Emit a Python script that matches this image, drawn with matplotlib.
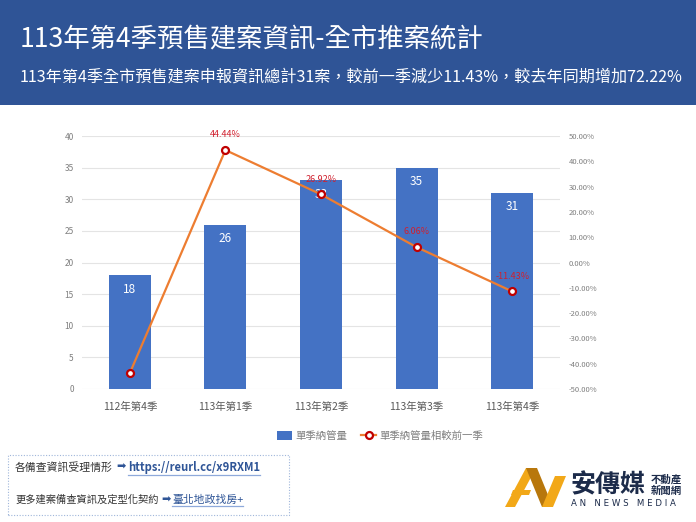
import matplotlib
matplotlib.use("Agg")
import matplotlib.pyplot as plt
from matplotlib.patches import Rectangle, Polygon
from matplotlib.lines import Line2D

plt.rcParams["font.family"] = ["Noto Sans CJK TC", "DejaVu Sans"]

# ---------- Data ----------
quarters    = ["112年第4季", "113年第1季", "113年第2季", "113年第3季", "113年第4季"]
counts      = [18, 26, 33, 35, 31]
qoq_pct     = [-43.75, 44.44, 26.92, 6.06, -11.43]
qoq_labels  = ["", "44.44%", "26.92%", "6.06%", "-11.43%"]
left_ticks  = [0, 5, 10, 15, 20, 25, 30, 35, 40]
right_ticks = [-50, -40, -30, -20, -10, 0, 10, 20, 30, 40, 50]

TITLE    = "113年第4季預售建案資訊-全市推案統計"
SUBTITLE = "113年第4季全市預售建案申報資訊總計31案，較前一季減少11.43%，較去年同期增加72.22%"
BAR_NAME  = "單季納管量"
LINE_NAME = "單季納管量相較前一季"
LINK1_TXT = "各備查資訊受理情形"
LINK1_URL = "https://reurl.cc/x9RXM1"
LINK2_TXT = "更多建案備查資訊及定型化契約"
LINK2_URL = "臺北地政找房+"

# ---------- Colours ----------
HEADER_BLUE = "#2F5496"
BAR_BLUE    = "#4472C4"
LINE_ORANGE = "#ED7D31"
MARK_RED    = "#C00000"
LABEL_RED   = "#D0202E"
GRID_GRAY   = "#E4E4E4"
TEXT_GRAY   = "#7F7F7F"
LINK_BLUE   = "#2F5597"

W, H = 696, 522
fig = plt.figure(figsize=(W / 100, H / 100), dpi=100)


def fx(px):
    return px / W


def fy(py):
    return 1 - py / H


# ---------- Header ----------
fig.patches.append(Rectangle((0, fy(105)), 1, 105 / H, transform=fig.transFigure,
                             facecolor=HEADER_BLUE, edgecolor="none", zorder=0))
fig.text(fx(20), fy(40), TITLE, color="white", fontsize=19, fontweight="medium",
         va="center", ha="left")
fig.text(fx(20), fy(77), SUBTITLE, color="white", fontsize=11.6, fontweight="medium",
         va="center", ha="left")

# ---------- Chart ----------
ax = fig.add_axes([fx(82), fy(389), 478 / W, 253 / H])
x = list(range(len(quarters)))
ax.bar(x, counts, width=0.44, color=BAR_BLUE, zorder=2)
ax.set_xlim(-0.5, len(quarters) - 0.5)
ax.set_ylim(0, 40)
ax.set_yticks(left_ticks)
ax.set_yticklabels([str(t) for t in left_ticks])
ax.set_xticks(x)
ax.set_xticklabels(quarters)
ax.tick_params(axis="y", length=0, labelsize=6, labelcolor=TEXT_GRAY, pad=6)
ax.tick_params(axis="x", length=0, labelsize=7.5, labelcolor="#595959", pad=9)
ax.grid(axis="y", color=GRID_GRAY, linewidth=0.8, zorder=0)
ax.set_axisbelow(True)
for s in ax.spines.values():
    s.set_visible(False)

for xi, c in zip(x, counts):
    ax.annotate(str(c), (xi, c), xytext=(0, -10), textcoords="offset points",
                ha="center", va="center", color="white", fontsize=8.5)

ax2 = ax.twinx()
ax2.plot(x, qoq_pct, color=LINE_ORANGE, linewidth=1.6, marker="o", markersize=5,
         markerfacecolor="white", markeredgecolor=MARK_RED, markeredgewidth=1.6, zorder=3)
ax2.set_ylim(-50, 50)
ax2.set_yticks(right_ticks)
ax2.set_yticklabels([f"{t:.2f}%" for t in right_ticks])
ax2.tick_params(axis="y", length=0, labelsize=5.5, labelcolor=TEXT_GRAY, pad=6)
for s in ax2.spines.values():
    s.set_visible(False)

for xi, v, lab in zip(x, qoq_pct, qoq_labels):
    if lab:
        ax2.annotate(lab, (xi, v), xytext=(0, 11), textcoords="offset points",
                     ha="center", va="center", color=LABEL_RED, fontsize=6.5)

# ---------- Legend ----------
handles = [
    Rectangle((0, 0), 1, 1, facecolor=BAR_BLUE, edgecolor="none"),
    Line2D([], [], color=LINE_ORANGE, linewidth=1.6, marker="o", markersize=5,
           markerfacecolor="white", markeredgecolor=MARK_RED, markeredgewidth=1.6),
]
leg = fig.legend(handles, [BAR_NAME, LINE_NAME], loc="center", ncol=2,
                 bbox_to_anchor=(fx(380), fy(436)), frameon=False, fontsize=7.5,
                 handlelength=1.4, handleheight=0.9, columnspacing=1.4, handletextpad=0.3)
for t in leg.get_texts():
    t.set_color(TEXT_GRAY)

# ---------- Bottom info box ----------
fig.patches.append(Rectangle((fx(8), fy(515)), 281 / W, 60 / H, transform=fig.transFigure,
                             facecolor="white", edgecolor="#9FB6DA", linewidth=0.8,
                             linestyle=(0, (1, 1.5)), zorder=1))
fig.text(fx(15), fy(467), LINK1_TXT, fontsize=7.8, color="#333333", va="center")
fig.text(fx(116), fy(467), "➡", fontsize=8, color=LINK_BLUE, va="center",
         family=["DejaVu Sans"])
u1 = fig.text(fx(128), fy(467), LINK1_URL, fontsize=8.1, color=LINK_BLUE, va="center",
              fontweight="bold")
fig.text(fx(15), fy(500), LINK2_TXT, fontsize=7.4, color="#333333", va="center")
fig.text(fx(161), fy(500), "➡", fontsize=8, color=LINK_BLUE, va="center",
         family=["DejaVu Sans"])
u2 = fig.text(fx(172), fy(500), LINK2_URL, fontsize=7.8, color=LINK_BLUE, va="center")

fig.canvas.draw()
inv = fig.transFigure.inverted()
for u in (u1, u2):
    bb = u.get_window_extent()
    (x0, y0), (x1, _) = inv.transform([(bb.x0, bb.y0), (bb.x1, bb.y1)])
    fig.add_artist(Line2D([x0, x1], [y0 - 0.002, y0 - 0.002], transform=fig.transFigure,
                          color="#8EA9DB", linewidth=0.9))

# ---------- Logo ----------
GOLD, DARK_GOLD = "#F2A818", "#B8770C"
shapes = [
    ([(505, 507), (515, 507), (536, 468), (526, 468)], GOLD),
    ([(526, 468), (537, 468), (553, 507), (542, 507)], DARK_GOLD),
    ([(542, 507), (553, 507), (566, 476), (555, 476)], GOLD),
    ([(511, 495), (529, 495), (531, 490), (513, 490)], GOLD),
]
for pts, col in shapes:
    fig.patches.append(Polygon([(fx(px), fy(py)) for px, py in pts], closed=True,
                               transform=fig.transFigure, facecolor=col, edgecolor="none"))
fig.text(fx(570), fy(485), "安傳媒", fontsize=18, fontweight="bold", color="#1C2B4A",
         va="center", ha="left")
fig.text(fx(651), fy(479), "不動產", fontsize=7.5, fontweight="bold", color="#1C2B4A",
         va="center", ha="left")
fig.text(fx(651), fy(491), "新聞網", fontsize=7.5, fontweight="bold", color="#1C2B4A",
         va="center", ha="left")
fig.text(fx(571), fy(504), "A N   N E W S   M E D I A", fontsize=6.2, color="#1C2B4A",
         va="center", ha="left", family=["DejaVu Sans"])

fig.savefig("out.png", dpi=100)
